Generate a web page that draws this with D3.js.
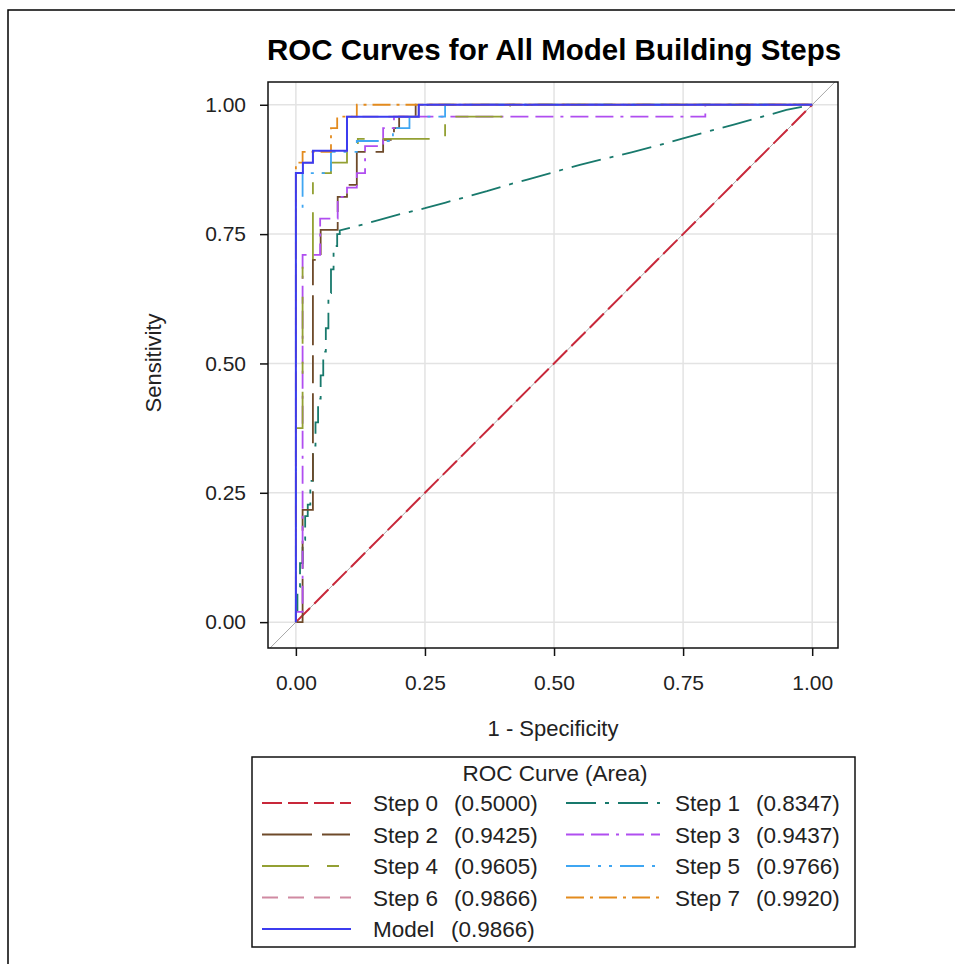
<!DOCTYPE html>
<html>
<head>
<meta charset="utf-8">
<script src="https://cdn.jsdelivr.net/npm/d3@7/dist/d3.min.js"></script>
<style>
  body { margin: 0; background: #fff; }
  svg { display: block; font-family: "Liberation Sans", Arial, sans-serif; }
</style>
</head>
<body>
<svg id="chart" width="955" height="964"></svg>
<script>
// ---- data (x = 1 - specificity, y = sensitivity)
var xTicks = [0, 0.25, 0.5, 0.75, 1];
var yTicks = [0, 0.25, 0.5, 0.75, 1];

var seriesNames = ["Step 0", "Step 1", "Step 2", "Step 3", "Step 4", "Step 5", "Step 6", "Step 7", "Model"];
var seriesAreas = ["0.5000", "0.8347", "0.9425", "0.9437", "0.9605", "0.9766", "0.9866", "0.9920", "0.9866"];

var step0 = [[0, 0], [1, 1]];
var step1 = [[0, 0], [0, 0.023], [0.003, 0.023], [0.003, 0.068], [0.008, 0.068], [0.008, 0.114],
  [0.013, 0.114], [0.013, 0.159], [0.018, 0.159], [0.018, 0.205], [0.023, 0.205], [0.023, 0.227],
  [0.028, 0.227], [0.028, 0.273], [0.033, 0.273], [0.033, 0.341], [0.038, 0.341], [0.038, 0.386],
  [0.043, 0.386], [0.043, 0.432], [0.048, 0.432], [0.048, 0.477], [0.053, 0.477], [0.053, 0.523],
  [0.058, 0.523], [0.058, 0.568], [0.063, 0.568], [0.063, 0.636], [0.068, 0.636], [0.068, 0.682],
  [0.073, 0.682], [0.073, 0.727], [0.08, 0.727], [0.08, 0.75], [0.085, 0.75], [0.085, 0.757],
  [0.12, 0.766], [0.16, 0.777], [0.2, 0.788], [0.25, 0.8], [0.29, 0.811], [0.33, 0.822],
  [0.37, 0.833], [0.41, 0.845], [0.45, 0.856], [0.5, 0.87], [0.55, 0.884], [0.6, 0.896],
  [0.65, 0.908], [0.7, 0.921], [0.75, 0.935], [0.8, 0.949], [0.85, 0.962], [0.9, 0.976],
  [0.95, 0.99], [1, 1]];
var step2 = [[0, 0], [0.013, 0], [0.013, 0.217], [0.033, 0.217], [0.033, 0.7], [0.048, 0.7],
  [0.048, 0.758], [0.081, 0.758], [0.081, 0.822], [0.099, 0.822], [0.099, 0.845], [0.118, 0.845],
  [0.118, 0.909], [0.169, 0.909], [0.169, 0.932], [0.19, 0.932], [0.19, 0.955], [0.2, 0.955],
  [0.2, 0.977], [0.232, 0.977], [0.232, 1], [1, 1]];
var step3 = [[0, 0], [0, 0.02], [0.013, 0.02], [0.013, 0.71], [0.047, 0.71], [0.047, 0.78],
  [0.081, 0.78], [0.081, 0.822], [0.099, 0.822], [0.099, 0.84], [0.118, 0.84], [0.118, 0.868],
  [0.134, 0.868], [0.134, 0.92], [0.169, 0.92], [0.169, 0.955], [0.19, 0.955], [0.19, 0.977],
  [0.793, 0.977], [0.793, 1], [1, 1]];
var step4 = [[0, 0], [0, 0.375], [0.013, 0.375], [0.013, 0.7], [0.033, 0.7], [0.033, 0.868],
  [0.068, 0.868], [0.068, 0.888], [0.099, 0.888], [0.099, 0.909], [0.12, 0.909], [0.12, 0.934],
  [0.289, 0.934], [0.289, 0.977], [0.415, 0.977], [0.415, 1], [1, 1]];
var step5 = [[0, 0], [0, 0.8], [0.013, 0.8], [0.013, 0.868], [0.068, 0.868], [0.068, 0.909],
  [0.118, 0.909], [0.118, 0.93], [0.188, 0.93], [0.188, 0.955], [0.22, 0.955], [0.22, 0.977],
  [0.289, 0.977], [0.289, 1], [1, 1]];
var step6 = [[0, 0], [0, 0.868], [0.0136, 0.868], [0.0136, 0.888], [0.033, 0.888], [0.033, 0.911],
  [0.099, 0.911], [0.099, 0.977], [0.238, 0.977], [0.238, 1], [1, 1]];
var step7 = [[0, 0], [0, 0.888], [0.013, 0.888], [0.013, 0.909], [0.068, 0.909], [0.068, 0.955],
  [0.08, 0.955], [0.08, 0.977], [0.118, 0.977], [0.118, 1], [1, 1]];
var model = [[0, 0], [0, 0.868], [0.0136, 0.868], [0.0136, 0.888], [0.033, 0.888], [0.033, 0.911],
  [0.099, 0.911], [0.099, 0.977], [0.238, 0.977], [0.238, 1], [1, 1]];

var seriesPoints = [step0, step1, step2, step3, step4, step5, step6, step7, model];

// ---- styles
var colors = ["#c8283a", "#18796c", "#6e4a2a", "#b04ef0", "#93a033", "#3fa6f2", "#d08aa2", "#e38b1e", "#3c3cef"];
var dashes = ["20,6", "30,9,4,9", "50,10,28,10", "18,7,18,7,3,7", "47,18,12,18", "24,8,3,8,3,8", "16,10", "18,6,3,6", null];
var widths = [2, 1.8, 1.8, 1.8, 1.8, 1.8, 1.8, 1.8, 2];

var svg = d3.select("#chart");

// page border (top and left visible)
svg.append("rect")
  .attr("x", 8).attr("y", 10)
  .attr("width", 1000).attr("height", 1000)
  .attr("fill", "none").attr("stroke", "#000").attr("stroke-width", 1.5);

var plot = { left: 268, right: 838, top: 82, bottom: 648 };

var x = d3.scaleLinear().domain([-0.054, 1.05]).range([plot.left, plot.right]);
var y = d3.scaleLinear().domain([-0.05, 1.044]).range([plot.bottom, plot.top]);

svg.append("text")
  .attr("x", 554).attr("y", 60)
  .attr("text-anchor", "middle")
  .style("font-size", "29.5px").style("font-weight", "bold")
  .text("ROC Curves for All Model Building Steps");

svg.append("clipPath").attr("id", "clip")
  .append("rect")
  .attr("x", plot.left).attr("y", plot.top)
  .attr("width", plot.right - plot.left).attr("height", plot.bottom - plot.top);

// grid
var grid = svg.append("g");
grid.selectAll(".gx").data(xTicks).enter().append("line")
  .attr("x1", function(d) { return x(d); }).attr("x2", function(d) { return x(d); })
  .attr("y1", plot.top).attr("y2", plot.bottom)
  .attr("stroke", "#e3e3e3").attr("stroke-width", 1.5);
grid.selectAll(".gy").data(yTicks).enter().append("line")
  .attr("y1", function(d) { return y(d); }).attr("y2", function(d) { return y(d); })
  .attr("x1", plot.left).attr("x2", plot.right)
  .attr("stroke", "#e3e3e3").attr("stroke-width", 1.5);

var g = svg.append("g").attr("clip-path", "url(#clip)");

// diagonal reference line across the whole frame
g.append("line")
  .attr("x1", x(-0.1)).attr("y1", y(-0.1))
  .attr("x2", x(1.1)).attr("y2", y(1.1))
  .attr("stroke", "#a8a8a8").attr("stroke-width", 1);

var line = d3.line()
  .x(function(d) { return x(d[0]); })
  .y(function(d) { return y(d[1]); });

seriesPoints.forEach(function(pts, i) {
  g.append("path")
    .attr("d", line(pts))
    .attr("fill", "none")
    .attr("stroke", colors[i])
    .attr("stroke-width", widths[i])
    .attr("stroke-dasharray", dashes[i]);
});

// frame
svg.append("rect")
  .attr("x", plot.left).attr("y", plot.top)
  .attr("width", plot.right - plot.left).attr("height", plot.bottom - plot.top)
  .attr("fill", "none").attr("stroke", "#111").attr("stroke-width", 1.5);

// axes
var xAxis = svg.append("g")
  .attr("transform", "translate(0," + plot.bottom + ")")
  .call(d3.axisBottom(x).tickValues(xTicks).tickFormat(d3.format(".2f")).tickSize(8).tickPadding(19));
var yAxis = svg.append("g")
  .attr("transform", "translate(" + plot.left + ",0)")
  .call(d3.axisLeft(y).tickValues(yTicks).tickFormat(d3.format(".2f")).tickSize(8).tickPadding(14));

[xAxis, yAxis].forEach(function(a) {
  a.select(".domain").remove();
  a.selectAll(".tick line").attr("stroke", "#111").attr("stroke-width", 1.5);
  a.selectAll(".tick text")
    .attr("fill", "#222")
    .style("font-size", "21px")
    .style("font-family", "'Liberation Sans', Arial, sans-serif");
});

svg.append("text")
  .attr("x", 553).attr("y", 736)
  .attr("text-anchor", "middle")
  .attr("fill", "#222")
  .style("font-size", "22px")
  .text("1 - Specificity");

svg.append("text")
  .attr("transform", "translate(161,363) rotate(-90)")
  .attr("text-anchor", "middle")
  .attr("fill", "#222")
  .style("font-size", "22px")
  .text("Sensitivity");

// legend
var legend = svg.append("g");
legend.append("rect")
  .attr("x", 252).attr("y", 757)
  .attr("width", 603).attr("height", 190)
  .attr("fill", "#fff").attr("stroke", "#111").attr("stroke-width", 1.5);

legend.append("text")
  .attr("x", 555).attr("y", 781)
  .attr("text-anchor", "middle")
  .attr("fill", "#222")
  .style("font-size", "22.5px")
  .text("ROC Curve (Area)");

var colLine = [[262, 351], [566, 660]];
var colText = [373, 675];

seriesNames.forEach(function(name, i) {
  var col = i % 2;
  var row = Math.floor(i / 2);
  var cy = 803 + row * 31.5;
  var item = legend.append("g");
  item.append("line")
    .attr("x1", colLine[col][0]).attr("x2", colLine[col][1])
    .attr("y1", cy).attr("y2", cy)
    .attr("stroke", colors[i])
    .attr("stroke-width", widths[i])
    .attr("stroke-dasharray", dashes[i]);
  var t = item.append("text")
    .attr("x", colText[col]).attr("y", cy + 8)
    .attr("fill", "#222")
    .style("font-size", "22.5px");
  t.append("tspan").text(name);
  t.append("tspan").attr("x", colText[col] + (i === 8 ? 78 : 81)).text("(" + seriesAreas[i] + ")");
});
</script>
</body>
</html>
